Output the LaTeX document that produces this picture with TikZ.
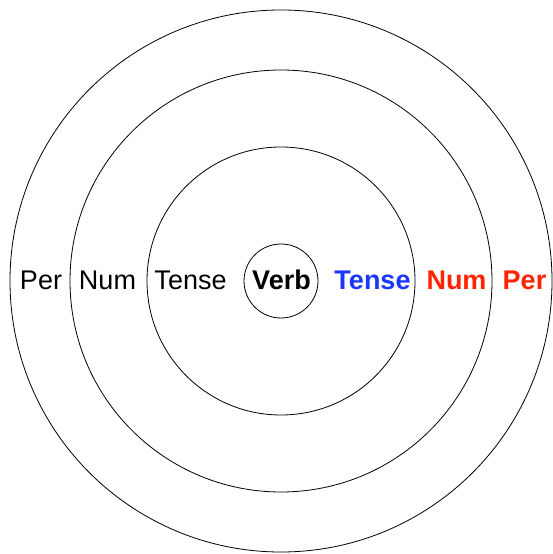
\documentclass[tikz,border=0pt]{standalone}
\usepackage{fontspec}
\setmainfont{Liberation Sans}
\definecolor{tenseblue}{RGB}{25,55,255}
\definecolor{alertred}{RGB}{255,35,0}
\begin{document}
\begin{tikzpicture}[x=1pt,y=1pt,
  ring/.style={circle,draw=black,line width=0.8pt,inner sep=0pt,minimum size=#1},
  lab/.style={anchor=base,inner sep=0pt,font=\fontsize{27}{32}\selectfont}]
\useasboundingbox (0,0) rectangle (552,554);
\node[ring=74pt]  (c1) at (281,273) {};
\node[ring=268pt] (c2) at (281,273) {};
\node[ring=422pt] (c3) at (281,273) {};
\node[ring=542pt] (c4) at (281,273) {};
\node[lab] (perL)   at (41,264)    {Per};
\node[lab] (numL)   at (107.5,264) {Num};
\node[lab] (tenseL) at (190.5,264) {Tense};
\node[lab,font=\fontsize{27}{32}\selectfont\bfseries] (verb) at (281.5,264) {Verb};
\node[lab,font=\fontsize{27}{32}\selectfont\bfseries,text=tenseblue] (tenseR) at (372.5,264) {Tense};
\node[lab,font=\fontsize{27}{32}\selectfont\bfseries,text=alertred] (numR) at (456.5,264) {Num};
\node[lab,font=\fontsize{27}{32}\selectfont\bfseries,text=alertred] (perR) at (524.5,264) {Per};
\end{tikzpicture}
\end{document}
